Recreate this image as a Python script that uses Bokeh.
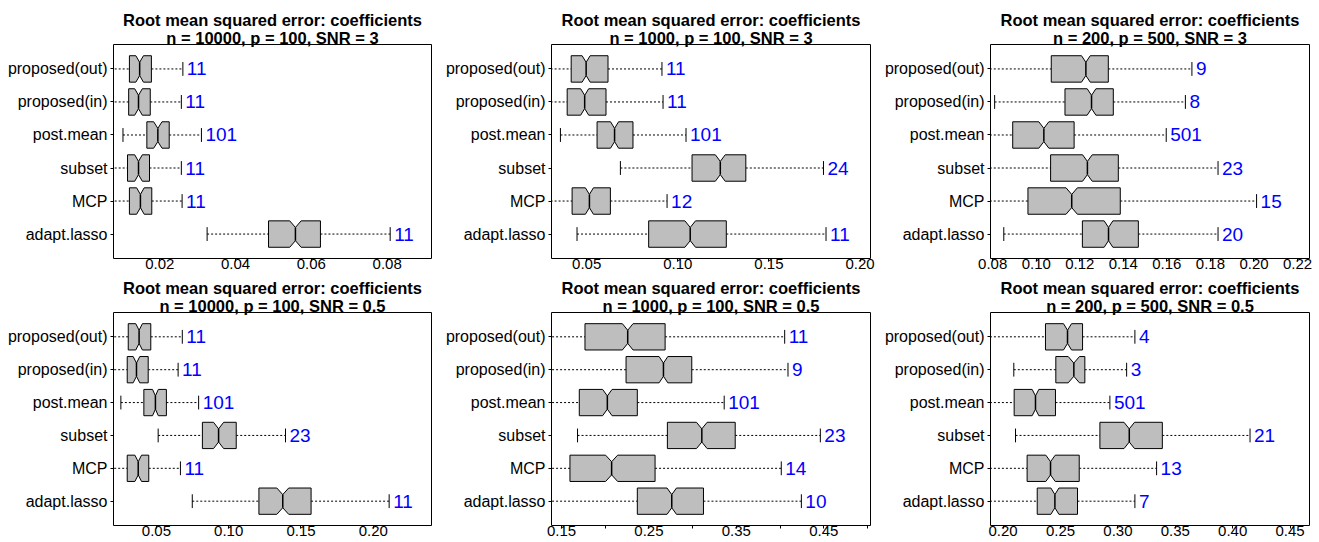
from bokeh.plotting import figure
from bokeh.layouts import row, column
from bokeh.models import Range1d, FixedTicker, PrintfTickFormatter, Title
from bokeh.core.properties import value
from bokeh.embed import file_html
from bokeh.resources import INLINE

# ---------------- data ----------------
methods = ["proposed(out)", "proposed(in)", "post.mean", "subset", "MCP", "adapt.lasso"]
title_main = "Root mean squared error: coefficients"
subtitles = ["n = 10000, p = 100, SNR = 3", "n = 1000, p = 100, SNR = 3", "n = 200, p = 500, SNR = 3",
             "n = 10000, p = 100, SNR = 0.5", "n = 1000, p = 100, SNR = 0.5", "n = 200, p = 500, SNR = 0.5"]

# panel 1: n = 10000, p = 100, SNR = 3
wlo_1 = [0.0060, 0.0060, 0.0103, 0.0060, 0.0060, 0.0325]
q1_1 = [0.0120, 0.0118, 0.0166, 0.0115, 0.0120, 0.0487]
med_1 = [0.0147, 0.0144, 0.0195, 0.0144, 0.0149, 0.0558]
q3_1 = [0.0178, 0.0175, 0.0225, 0.0173, 0.0179, 0.0624]
whi_1 = [0.0261, 0.0257, 0.0310, 0.0257, 0.0259, 0.0808]
notch_1 = [0.0010, 0.0010, 0.0011, 0.0010, 0.0010, 0.0015]
count_1 = [11, 11, 101, 11, 11, 11]
ticks_1 = [0.02, 0.04, 0.06, 0.08]

# panel 2: n = 1000, p = 100, SNR = 3
wlo_2 = [0.0280, 0.0280, 0.0356, 0.0685, 0.0280, 0.0447]
q1_2 = [0.0415, 0.0393, 0.0557, 0.1078, 0.0420, 0.0840]
med_2 = [0.0497, 0.0489, 0.0653, 0.1233, 0.0515, 0.1068]
q3_2 = [0.0617, 0.0606, 0.0754, 0.1373, 0.0630, 0.1266]
whi_2 = [0.0913, 0.0919, 0.1045, 0.1799, 0.0941, 0.1813]
notch_2 = [0.0022, 0.0022, 0.0022, 0.0027, 0.0022, 0.0029]
count_2 = [11, 11, 101, 24, 12, 11]
ticks_2 = [0.05, 0.10, 0.15, 0.20]

# panel 3: n = 200, p = 500, SNR = 3
wlo_3 = [0.0750, 0.0809, 0.0750, 0.0750, 0.0750, 0.0851]
q1_3 = [0.1069, 0.1132, 0.0892, 0.1066, 0.0962, 0.1212]
med_3 = [0.1228, 0.1254, 0.1035, 0.1235, 0.1163, 0.1332]
q3_3 = [0.1331, 0.1354, 0.1174, 0.1377, 0.1386, 0.1469]
whi_3 = [0.1715, 0.1685, 0.1597, 0.1835, 0.2012, 0.1835]
notch_3 = [0.0020, 0.0020, 0.0023, 0.0022, 0.0026, 0.0020]
count_3 = [9, 8, 501, 23, 15, 20]
ticks_3 = [0.08, 0.10, 0.12, 0.14, 0.16, 0.18, 0.20, 0.22]

# panel 4: n = 10000, p = 100, SNR = 0.5
wlo_4 = [0.0180, 0.0180, 0.0254, 0.0512, 0.0180, 0.0748]
q1_4 = [0.0305, 0.0298, 0.0413, 0.0818, 0.0298, 0.1209]
med_4 = [0.0380, 0.0362, 0.0493, 0.0930, 0.0374, 0.1374]
q3_4 = [0.0461, 0.0443, 0.0569, 0.1052, 0.0447, 0.1570]
whi_4 = [0.0679, 0.0650, 0.0792, 0.1393, 0.0666, 0.2110]
notch_4 = [0.0023, 0.0023, 0.0020, 0.0035, 0.0023, 0.0041]
count_4 = [11, 11, 101, 23, 11, 11]
ticks_4 = [0.05, 0.10, 0.15, 0.20]

# panel 5: n = 1000, p = 100, SNR = 0.5
wlo_5 = [0.1300, 0.1300, 0.1300, 0.1683, 0.1300, 0.1300]
q1_5 = [0.1768, 0.2238, 0.1703, 0.2711, 0.1596, 0.2367]
med_5 = [0.2257, 0.2666, 0.2024, 0.3105, 0.2073, 0.2761]
q3_5 = [0.2685, 0.2990, 0.2367, 0.3487, 0.2570, 0.3124]
whi_5 = [0.4053, 0.4091, 0.3361, 0.4461, 0.4014, 0.4244]
notch_5 = [0.0061, 0.0050, 0.0054, 0.0061, 0.0069, 0.0054]
count_5 = [11, 9, 101, 23, 14, 10]
ticks_5 = [0.15, 0.25, 0.35, 0.45]
minor_5 = [0.20, 0.30, 0.40, 0.50]

# panel 6: n = 200, p = 500, SNR = 0.5
wlo_6 = [0.1850, 0.2093, 0.1850, 0.2108, 0.1850, 0.1850]
q1_6 = [0.2369, 0.2459, 0.2096, 0.2843, 0.2209, 0.2297]
med_6 = [0.2561, 0.2616, 0.2282, 0.3099, 0.2413, 0.2451]
q3_6 = [0.2692, 0.2712, 0.2456, 0.3387, 0.2663, 0.2648]
whi_6 = [0.3148, 0.3076, 0.2930, 0.4151, 0.3337, 0.3148]
notch_6 = [0.0035, 0.0049, 0.0029, 0.0046, 0.0041, 0.0035]
count_6 = [4, 3, 501, 21, 13, 7]
ticks_6 = [0.20, 0.25, 0.30, 0.35, 0.40, 0.45]

# ---------------- layout / style ----------------
FONT = "Liberation Sans"
panels = [
    dict(wlo=wlo_1, q1=q1_1, med=med_1, q3=q3_1, whi=whi_1, notch=notch_1, count=count_1,
         ticks=ticks_1, minor=[], xr=(0.0078, 0.0917), sub=subtitles[0]),
    dict(wlo=wlo_2, q1=q1_2, med=med_2, q3=q3_2, whi=whi_2, notch=notch_2, count=count_2,
         ticks=ticks_2, minor=[], xr=(0.0307, 0.2057), sub=subtitles[1]),
    dict(wlo=wlo_3, q1=q1_3, med=med_3, q3=q3_3, whi=whi_3, notch=notch_3, count=count_3,
         ticks=ticks_3, minor=[], xr=(0.0790, 0.2255), sub=subtitles[2]),
    dict(wlo=wlo_4, q1=q1_4, med=med_4, q3=q3_4, whi=whi_4, notch=notch_4, count=count_4,
         ticks=ticks_4, minor=[], xr=(0.0203, 0.2403), sub=subtitles[3]),
    dict(wlo=wlo_5, q1=q1_5, med=med_5, q3=q3_5, whi=whi_5, notch=notch_5, count=count_5,
         ticks=ticks_5, minor=minor_5, xr=(0.1385, 0.5035), sub=subtitles[4]),
    dict(wlo=wlo_6, q1=q1_6, med=med_6, q3=q3_6, whi=whi_6, notch=notch_6, count=count_6,
         ticks=ticks_6, minor=[], xr=(0.1890, 0.4669), sub=subtitles[5]),
]

col_geom = [(440, 113, 9), (439, 111, 9), (440, 111, 10)]   # width, left border, right border
row_geom = [(275, 44, 17), (267, 37, 17)]                   # height, top border, bottom border


def make_panel(d, cg, rg):
    w, bl, br = cg
    h, bt, bb = rg
    p = figure(width=w, height=h, x_range=Range1d(*d["xr"]), y_range=Range1d(0.26, 6.74),
               output_backend="svg", toolbar_location=None,
               min_border_left=bl, min_border_right=br, min_border_top=bt, min_border_bottom=bb)
    p.xgrid.visible = False
    p.ygrid.visible = False
    p.outline_line_color = "black"
    p.outline_line_width = 1
    p.outline_line_alpha = 1
    p.background_fill_color = "white"
    p.border_fill_color = "white"

    n = len(methods)
    ys = [n - i for i in range(n)]
    hw, pw, sw = 0.4, 0.2, 0.21
    xs_poly, ys_poly = [], []
    for i in range(n):
        c = ys[i]
        q1, med, q3, nt = d["q1"][i], d["med"][i], d["q3"][i], d["notch"][i]
        nlo, nhi = med - nt, med + nt
        xs_poly.append([q1, nlo, med, nhi, q3, q3, nhi, med, nlo, q1])
        ys_poly.append([c - hw, c - hw, c - pw, c - hw, c - hw, c + hw, c + hw, c + pw, c + hw, c + hw])

    lo_s = [c - sw for c in ys]
    hi_s = [c + sw for c in ys]
    p.segment(x0=d["wlo"], y0=ys, x1=d["q1"], y1=ys, line_color="black", line_width=1, line_dash="2 2")
    p.segment(x0=d["q3"], y0=ys, x1=d["whi"], y1=ys, line_color="black", line_width=1, line_dash="2 2")
    p.segment(x0=d["wlo"], y0=lo_s, x1=d["wlo"], y1=hi_s, line_color="black", line_width=1)
    p.segment(x0=d["whi"], y0=lo_s, x1=d["whi"], y1=hi_s, line_color="black", line_width=1)
    p.patches(xs_poly, ys_poly, fill_color="#BEBEBE", line_color="black", line_width=1)
    p.segment(x0=d["med"], y0=[c - pw for c in ys], x1=d["med"], y1=[c + pw for c in ys],
              line_color="black", line_width=1.5)
    p.text(x=d["whi"], y=ys, text=[str(v) for v in d["count"]], x_offset=4,
           text_baseline="middle", text_align="left", text_color="#0000FF",
           text_font_size="19px", text_font=value(FONT))

    xa = p.xaxis[0]
    xa.ticker = FixedTicker(ticks=d["ticks"], minor_ticks=d["minor"])
    xa.formatter = PrintfTickFormatter(format="%.2f")
    xa.axis_line_color = None
    xa.major_tick_out = 3
    xa.major_tick_in = 0
    xa.minor_tick_out = 3
    xa.minor_tick_in = 0
    xa.major_tick_line_color = "black"
    xa.minor_tick_line_color = "black"
    xa.major_label_standoff = -3
    xa.major_label_text_font = FONT
    xa.major_label_text_font_size = "15px"
    xa.major_label_text_color = "black"

    ya = p.yaxis[0]
    ya.ticker = FixedTicker(ticks=ys, minor_ticks=[])
    ya.major_label_overrides = {ys[i]: methods[i] for i in range(n)}
    ya.axis_line_color = None
    ya.major_tick_out = 3
    ya.major_tick_in = 0
    ya.major_tick_line_color = "black"
    ya.major_label_standoff = 3
    ya.major_label_text_font = FONT
    ya.major_label_text_font_size = "16px"
    ya.major_label_text_color = "black"

    # two-line title: the first added sits next to the frame
    p.add_layout(Title(text=d["sub"], align="center", vertical_align="middle", standoff=-7,
                       text_font=FONT, text_font_style="bold", text_font_size="16.5px",
                       text_color="black"), "above")
    p.add_layout(Title(text=title_main, align="center", vertical_align="middle", standoff=4,
                       text_font=FONT, text_font_style="bold", text_font_size="16.5px",
                       text_color="black"), "above")
    return p


figs = []
for k, d in enumerate(panels):
    figs.append(make_panel(d, col_geom[k % 3], row_geom[k // 3]))

layout = column(row(figs[0], figs[1], figs[2]), row(figs[3], figs[4], figs[5]))
open("out.html", "w").write(file_html(layout, INLINE))
